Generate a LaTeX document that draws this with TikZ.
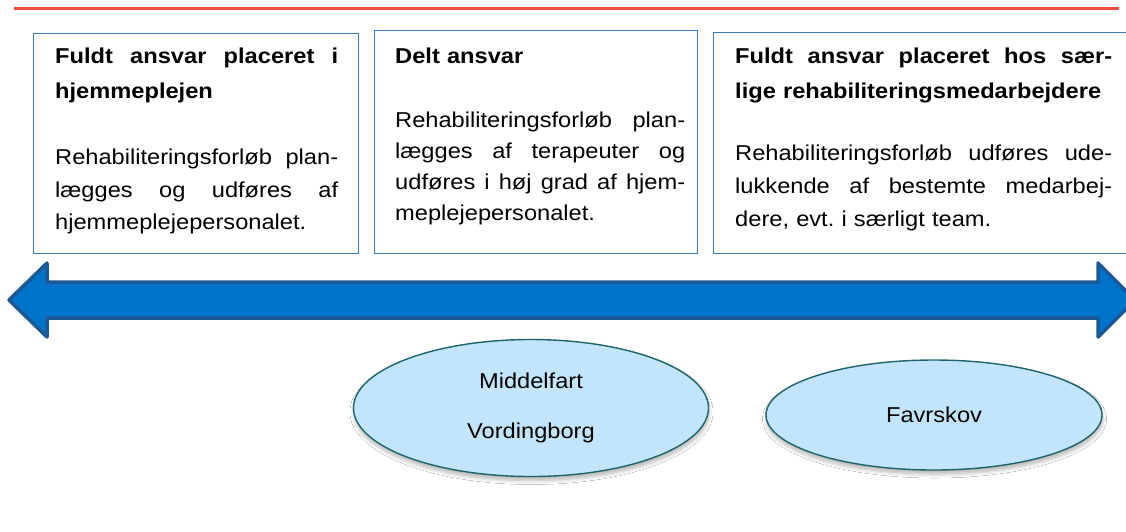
\documentclass[tikz,border=0pt]{standalone}
\usepackage{fontspec}
\setmainfont{Liberation Sans}[FakeStretch=1.1]
\usetikzlibrary{shapes.geometric,shadows,shadows.blur}
\definecolor{redline}{HTML}{EE4B3B}
\definecolor{boxline}{HTML}{3F7BB8}
\definecolor{arrowfill}{HTML}{0073CA}
\definecolor{arrowline}{HTML}{1D5896}
\definecolor{ellfill}{HTML}{C2E5FB}
\definecolor{ellline}{HTML}{1F6469}
\newcommand\jline[2]{\leavevmode\hbox to #1{\spaceskip=0.28em plus 1fil\relax #2}}
\tikzset{
  panel/.style={draw=boxline, line width=1.1pt, fill=white, inner sep=0pt, anchor=north west},
  txt/.style={inner sep=0pt, anchor=base west, align=left, text=black},
  ell/.style={ellipse, draw=ellline, line width=1.4pt, fill=ellfill, inner sep=0pt,
    align=center, font=\fontsize{21.5}{32}\selectfont,
    blur shadow={shadow xshift=0.5pt, shadow yshift=-4pt, shadow opacity=30, shadow blur steps=8, shadow blur radius=4pt}},
  bigarrow/.style={fill=arrowfill, draw=arrowline, line width=3.5pt, line join=round}
}
\begin{document}
\begin{tikzpicture}[x=1pt, y=-1pt]
\useasboundingbox (0,0) rectangle (1126,531);
\clip (0,0) rectangle (1126,531);
\fill[white] (0,0) rectangle (1126,531);
% red rule
\draw[redline, line width=3pt] (14,8) -- (1119,8);
% panels
\node[panel, minimum width=325pt, minimum height=220pt] (b1) at (33,33) {};
\node[panel, minimum width=323pt, minimum height=223pt] (b2) at (374,30) {};
\node[panel, minimum width=430pt, minimum height=221pt] (b3) at (713,32) {};
% panel texts
\node[txt, text width=283pt, font=\fontsize{21.5}{32.5}\selectfont] (t1) at (55,63)
  {\jline{283pt}{\bfseries Fuldt ansvar placeret i}\\[2.5pt]
   \textbf{hjemmeplejen}\\[34pt]
   \jline{283pt}{Rehabiliteringsforløb plan-}\\
   \jline{283pt}{lægges og udføres af}\\
   hjemmeplejepersonalet.};
\node[txt, text width=290pt, font=\fontsize{21.5}{31}\selectfont] (t2) at (395,63)
  {\textbf{Delt ansvar}\\[33pt]
   \jline{290pt}{Rehabiliteringsforløb plan-}\\
   \jline{290pt}{lægges af terapeuter og}\\
   \jline{290pt}{udføres i høj grad af hjem-}\\
   meplejepersonalet.};
\node[txt, text width=377pt, font=\fontsize{21.5}{33}\selectfont] (t3) at (735,63)
  {\jline{377pt}{\bfseries Fuldt ansvar placeret hos sær-}\\[2pt]
   \textbf{lige rehabiliteringsmedarbejdere}\\[29pt]
   \jline{377pt}{Rehabiliteringsforløb udføres ude-}\\
   \jline{377pt}{lukkende af bestemte medarbej-}\\
   dere, evt.\ i særligt team.};
% double block arrow
\draw[bigarrow] (9,300) -- (47,263) -- (47,282) -- (1098,282) -- (1098,263)
  -- (1135,300) -- (1098,337) -- (1098,318) -- (47,318) -- (47,337) -- cycle;
% ellipses
\node[ell, minimum width=355pt, minimum height=137pt] (e1) at (531,408)
  {Middelfart\\[18pt]Vordingborg};
\node[ell, minimum width=336pt, minimum height=110pt] (e2) at (934,415) {Favrskov};
\end{tikzpicture}
\end{document}
